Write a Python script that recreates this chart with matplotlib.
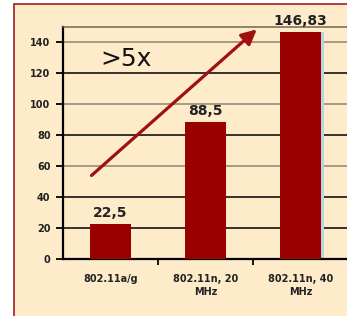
import matplotlib
matplotlib.use("Agg")
import matplotlib.pyplot as plt
from matplotlib.patches import Rectangle

categories = ["802.11a/g", "802.11n, 20\nMHz", "802.11n, 40\nMHz"]
values = [22.5, 88.5, 146.83]
value_labels = ["22,5", "88,5", "146,83"]
y_ticks = [0, 20, 40, 60, 80, 100, 120, 140]
dark_grid = [20, 40, 80, 120]
light_grid = [60, 100, 140]

# arrow start/end in data units (category index, value)
arrow_start = (-0.2, 54)
arrow_end = (1.54, 148.5)

bg = "#fdebc9"
bar_color = "#990000"

plt.rcParams['font.family'] = ['DejaVu Sans']

fig = plt.figure(figsize=(3.47, 3.16), dpi=100)
fig.patch.set_facecolor("white")

# cream panel with dark red border, cut off on right and bottom
fig.patches.append(Rectangle((14 / 347, -0.1), 1.2, 1 - 4 / 316 + 0.1,
                             transform=fig.transFigure, facecolor=bg,
                             edgecolor="#a83030", linewidth=1.3, zorder=-1))

ax = fig.add_axes([63 / 347, 1 - 259 / 316, 285 / 347, 232 / 316])
ax.patch.set_alpha(0)

x = list(range(len(categories)))
for yv in dark_grid:
    ax.axhline(yv, color="black", linewidth=1.1, zorder=1)
for yv in light_grid:
    ax.axhline(yv, color="#8c8474", linewidth=1.1, zorder=1)

# thin light blue edge seen on the right of the tallest bar
ax.bar(x[2] + 0.03, values[2], width=0.43, color="#b8d4e0", zorder=2)
ax.bar(x, values, width=0.44, color=bar_color, zorder=3)

for xi, v, lab in zip(x, values, value_labels):
    ax.annotate(lab, (xi, v), xytext=(0, 3), textcoords="offset points",
                ha="center", va="bottom", fontsize=10, fontweight="bold",
                color="#222222", zorder=5)

ax.annotate("", xy=arrow_end, xytext=arrow_start,
            arrowprops=dict(arrowstyle="-|>,head_length=0.9,head_width=0.45",
                            color="#a01010", linewidth=2.3,
                            shrinkA=0, shrinkB=0), zorder=4)
ax.text(0.16, 129, ">5x", fontsize=18, ha="center", va="center",
        color="#111111", zorder=5)

ax.set_xlim(-0.5, 2.5)
ax.set_ylim(0, 150)
ax.set_yticks(y_ticks)
ax.set_yticklabels([str(t) for t in y_ticks], fontsize=7, fontweight="bold",
                   color="#222222")
ax.tick_params(axis="y", length=5, width=1.3, pad=4)

ax.set_xticks([0.5, 1.5])
ax.set_xticklabels([])
ax.tick_params(axis="x", which="major", length=4, width=1.3)
ax.set_xticks(x, minor=True)
ax.set_xticklabels(categories, minor=True, fontsize=7, fontweight="bold",
                   color="#222222", linespacing=1.3)
ax.tick_params(axis="x", which="minor", length=0, pad=11)

for side in ["left", "bottom"]:
    ax.spines[side].set_linewidth(1.6)
    ax.spines[side].set_color("black")
ax.spines["top"].set_color("#6e6656")
ax.spines["top"].set_linewidth(1.1)
ax.spines["right"].set_visible(False)

fig.savefig("out.png", dpi=100)
